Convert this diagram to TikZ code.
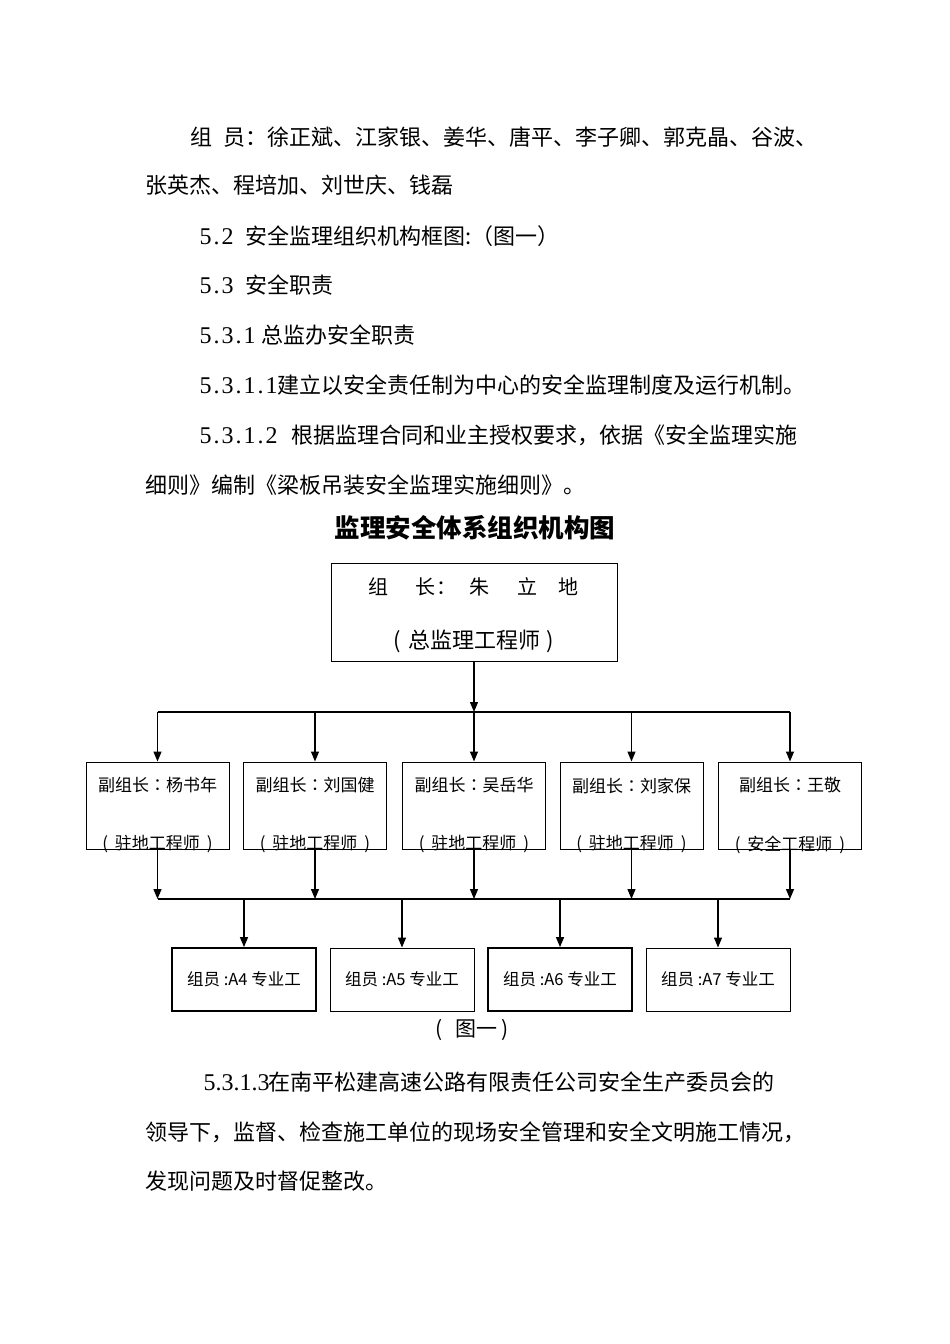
\documentclass[tikz,border=0pt]{standalone}
\usepackage{fontspec}
\setmainfont{Noto Sans CJK SC}
\newfontfamily\tcf{Noto Sans CJK TC}
\newfontfamily\serifd{Liberation Serif}
\def\dgloop#1{\ifx\relax#1\else\makebox[\dgw]{\serifd\fontsize{24}{26}\selectfont #1}\expandafter\dgloop\fi}
\newlength\dgw
\setlength\dgw{11pt}
\newcommand\dg[1]{\dgloop#1\relax}
\usetikzlibrary{arrows.meta}
\begin{document}
\begin{tikzpicture}[x=1pt,y=-1pt,
  body/.style={anchor=west, inner sep=0pt, font=\fontsize{22}{26}\selectfont},
  boxd/.style={draw, line width=1pt, minimum width=143pt, minimum height=87pt, inner sep=0pt},
  boxm/.style={draw, line width=1pt, minimum width=144pt, minimum height=63pt, inner sep=0pt, font=\fontsize{16.5}{20}\selectfont},
  boxtxt/.style={inner sep=0pt, font=\fontsize{17}{20}\selectfont},
  arr/.style={line width=1.3pt, -{Triangle[length=10pt,width=8pt]}},
  ln/.style={line width=1.3pt}]
\useasboundingbox[fill=white] (0,0) rectangle (950,1344);

% body text above
\node[body] (p1) at (190,137) {组\hspace{11pt}员：徐正斌、江家银、姜华、唐平、李子卿、郭克晶、谷波、};
\node[body] (p2) at (145,185) {张英杰、程培加、刘世庆、钱磊};
\node[body] (p3) at (200,236) {\dg{5.2}\hspace{12pt}安全监理组织机构框图:（图一）};
\node[body] (p4) at (200,285) {\dg{5.3}\hspace{12pt}安全职责};
\node[body] (p5) at (200,335) {\dg{5.3.1}\hspace{6pt}总监办安全职责};
\node[body] (p6) at (200,385) {\dg{5.3.1.1}建立以安全责任制为中心的安全监理制度及运行机制。};
\node[body] (p7) at (200,435) {\dg{5.3.1.2}\hspace{14pt}根据监理合同和业主授权要求，依据《安全监理实施};
\node[body] (p8) at (145,485) {细则》编制《梁板吊装安全监理实施细则》。};

% title
\node[inner sep=0pt, font=\fontsize{25.5}{30}\selectfont\bfseries] (title) at (475,528) {监理安全体系组织机构图};

% top box
\node[draw, line width=1pt, minimum width=286pt, minimum height=98pt, inner sep=0pt] (top) at (474,612) {};
\node[inner sep=0pt, font=\fontsize{20}{24}\selectfont] (topa) at (473,587)
  {\makebox[20pt]{组}\hspace{27pt}\makebox[20pt]{长}\makebox[22pt]{：}\hspace{12pt}\makebox[20pt]{朱}\hspace{28pt}\makebox[20pt]{立}\hspace{21pt}\makebox[20pt]{地}};
\node[inner sep=0pt, font=\fontsize{22}{26}\selectfont] (topb) at (474,641) {(\hspace{7pt}总监理工程师\hspace{7pt})};

% middle boxes
\node[boxd] (d1) at (157.5,805.5) {};
\node[boxd] (d2) at (315,805.5) {};
\node[boxd] (d3) at (474,805.5) {};
\node[boxd] (d4) at (631.5,805.5) {};
\node[boxd] (d5) at (790,805.5) {};
\node[boxtxt] (d1a) at ([yshift=-24pt]d1.north) {副组长{\tcf ：}杨书年};
\node[boxtxt] (d2a) at ([yshift=-24pt]d2.north) {副组长{\tcf ：}刘国健};
\node[boxtxt] (d3a) at ([yshift=-24pt]d3.north) {副组长{\tcf ：}吴岳华};
\node[boxtxt] (d4a) at ([yshift=-24pt]d4.north) {副组长{\tcf ：}刘家保};
\node[boxtxt] (d5a) at ([yshift=-24pt]d5.north) {副组长{\tcf ：}王敬};
\node[boxtxt] (d1b) at ([yshift=5pt]d1.south) {(\hspace{7pt}驻地工程师\hspace{7pt})};
\node[boxtxt] (d2b) at ([yshift=5pt]d2.south) {(\hspace{7pt}驻地工程师\hspace{7pt})};
\node[boxtxt] (d3b) at ([yshift=5pt]d3.south) {(\hspace{7pt}驻地工程师\hspace{7pt})};
\node[boxtxt] (d4b) at ([yshift=5pt]d4.south) {(\hspace{7pt}驻地工程师\hspace{7pt})};
\node[boxtxt] (d5b) at ([yshift=5pt]d5.south) {(\hspace{7pt}安全工程师\hspace{7pt})};

% bottom boxes
\node[boxm, line width=1.8pt] (m1) at (244,979.5) {组员 :A4 专业工};
\node[boxm] (m2) at (402,979.5) {组员 :A5 专业工};
\node[boxm, line width=1.8pt] (m3) at (560,979.5) {组员 :A6 专业工};
\node[boxm] (m4) at (718,979.5) {组员 :A7 专业工};

% buses
\coordinate (b1) at (474,712);
\coordinate (b2) at (474,899);
\draw[arr] (top.south) -- (top.south |- b1);
\draw[ln] (d1.north |- b1) -- (d5.north |- b1);
\foreach \i in {1,...,5}{
  \draw[arr] (d\i.north |- b1) -- (d\i.north);
  \draw[arr] (d\i.south) -- (d\i.south |- b2);
}
\draw[ln] (d1.south |- b2) -- (d5.south |- b2);
\foreach \i in {1,...,4}{
  \draw[arr] (m\i.north |- b2) -- (m\i.north);
}

% caption
\node[inner sep=0pt, font=\fontsize{21}{24}\selectfont] (cap) at (472,1030) {(\hspace{13pt}图一\hspace{4pt})};

% body text below
\node[body] (q1) at (205,1082) {\setlength\dgw{9pt}\dg{5.3.1.3}在南平松建高速公路有限责任公司安全生产委员会的};
\node[body] (q2) at (145,1132) {领导下，监督、检查施工单位的现场安全管理和安全文明施工情况，};
\node[body] (q3) at (145,1181) {发现问题及时督促整改。};
\end{tikzpicture}
\end{document}
